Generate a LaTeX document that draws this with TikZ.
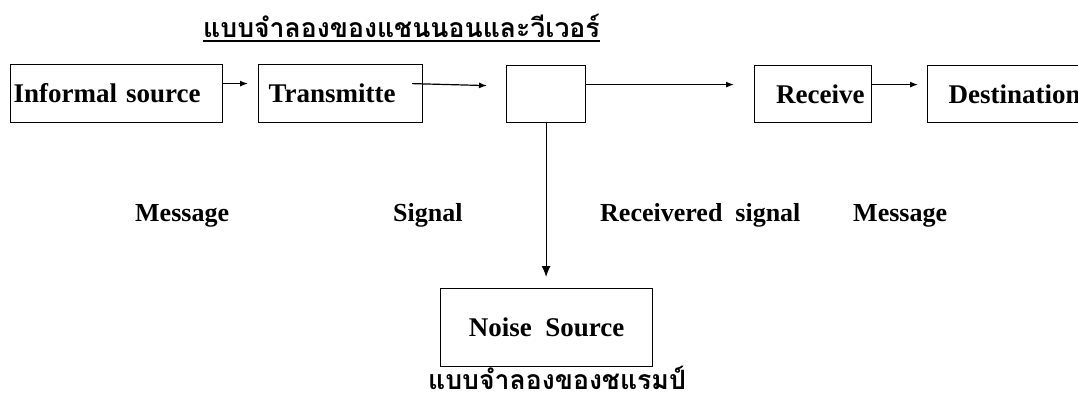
\documentclass[tikz,border=0pt]{standalone}
\usepackage{fontspec}
\setmainfont{Liberation Serif}
\newfontfamily\thaifont[Script=Thai]{Loma}
\usetikzlibrary{arrows.meta}
\tikzset{
  box/.style={draw, line width=1.2pt, rectangle, anchor=north west, inner ysep=0pt,
    font=\fontsize{27}{30}\selectfont\bfseries},
  arr/.style={line width=1.2pt, -{Latex[length=8pt,width=6pt]}},
  varr/.style={line width=1.2pt, -{Latex[length=11pt,width=9pt]}},
  lbl/.style={anchor=base west, inner sep=0pt, font=\fontsize{26}{30}\selectfont\bfseries},
  thai/.style={inner sep=0pt, font=\fontsize{26.6}{32}\selectfont\thaifont\bfseries},
}
\begin{document}
\begin{tikzpicture}[x=1pt,y=-1pt]
\clip (0,0) rectangle (1078,400);
\fill[white] (0,0) rectangle (1078,400);
% title
\node[thai, anchor=base west] (title) at (203,37) {แบบจำลองของแชนนอนและวีเวอร์};
\draw[line width=1.2pt] ([yshift=-4pt]title.base west) -- ([yshift=-4pt]title.base east);
% boxes
\node[box, minimum width=212pt, minimum height=58pt, text width=206pt, inner xsep=3pt, align=left] (src) at (10,64) {Informal source};
\node[box, minimum width=164pt, minimum height=58pt, text width=144pt, inner xsep=10pt, align=left] (tx) at (258,64) {Transmitte};
\node[box, minimum width=79pt, minimum height=57pt] (ch) at (506,65) {};
\node[box, minimum width=117pt, minimum height=57pt, text width=103pt, inner xsep=7pt, align=right] (rx) at (754,65) {Receive};
\node[box, minimum width=200pt, minimum height=57pt, text width=158pt, inner xsep=21pt, align=left] (dst) at (927,65) {Destination};
\node[box, minimum width=212pt, minimum height=78pt] (ns) at (440,288) {Noise\ \ Source};
% connectors
\draw[arr] ([yshift=10pt]src.east) -- ([yshift=10pt,xshift=-10pt]tx.west);
\draw[arr] ([yshift=10pt,xshift=-11pt]tx.east) -- ([yshift=8.5pt,xshift=-19pt]ch.west);
\draw[arr] ([yshift=9.5pt]ch.east) -- ([yshift=9.5pt,xshift=-20pt]rx.west);
\draw[arr] ([yshift=9.5pt]rx.east) -- ([yshift=9.5pt,xshift=-9pt]dst.west);
\draw[varr] (ch.south) -- ([yshift=11pt]ch.south |- ns.north);
% labels
\node[lbl] (m1) at (135,221) {Message};
\node[lbl] (sg) at (393,221) {Signal};
\node[lbl] (rs) at (600,221) {Receivered\ \ signal};
\node[lbl] (m2) at (853,221) {Message};
% bottom caption
\node[thai, anchor=base] (cap) at (557,389) {แบบจำลองของชแรมป์};
\end{tikzpicture}
\end{document}
